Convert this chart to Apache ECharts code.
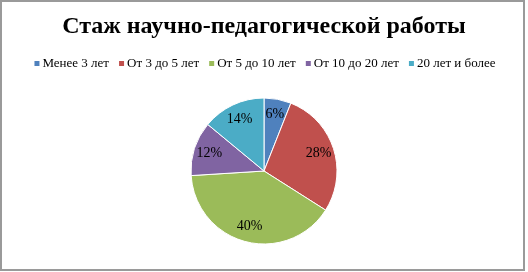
<!DOCTYPE html>
<html><head><meta charset="utf-8">
<script src="https://cdn.jsdelivr.net/npm/echarts@6/dist/echarts.min.js"></script>
<style>html,body{margin:0;padding:0;background:#fff}#c{width:528px;height:272px}</style>
</head><body><div id="c"></div>
<script>
const title = 'Стаж научно-педагогической работы';
const categories = ['Менее 3 лет', 'От 3 до 5 лет', 'От 5 до 10 лет', 'От 10 до 20 лет', '20 лет и более'];
const values = [6, 28, 40, 12, 14];
const colors = ['#4F81BD', '#C0504D', '#9BBB59', '#8064A2', '#4BACC6'];

const data = categories.map((n, i) => ({ name: n, value: values[i] }));
const chart = echarts.init(document.getElementById('c'), null, { renderer: 'canvas' });
chart.setOption({
  animation: false,
  color: colors,
  title: {
    text: title, left: 'center', top: 10,
    textStyle: { fontFamily: 'Liberation Serif', fontWeight: 'bold', fontSize: 24, color: '#000' }
  },
  legend: {
    data: categories, top: 52, left: 'center', icon: 'rect', itemWidth: 7, itemHeight: 7, itemGap: 8,
    textStyle: { fontFamily: 'Liberation Serif', fontSize: 13, color: '#000', padding: [0, 0, 0, -3] }
  },
  graphic: [{
    type: 'rect', shape: { x: 1, y: 1, width: 523, height: 269 },
    style: { fill: 'none', stroke: '#9a9a9a', lineWidth: 2 }, silent: true
  }],
  series: [{
    type: 'pie', center: [264, 171], radius: [0, 73], startAngle: 90, clockwise: true,
    data: data, label: { show: false }, labelLine: { show: false },
    itemStyle: { borderColor: '#fff', borderWidth: 1 }, emphasis: { disabled: true }
  }, {
    type: 'pie', center: [264, 171], radius: [36, 73], startAngle: 90, clockwise: true,
    data: data, silent: true, legendHoverLink: false,
    itemStyle: { color: 'rgba(0,0,0,0)' },
    label: { show: true, position: 'inside', formatter: '{d}%', fontFamily: 'Liberation Serif', fontSize: 14, color: '#000' },
    labelLine: { show: false }, emphasis: { disabled: true }
  }]
});
</script></body></html>
